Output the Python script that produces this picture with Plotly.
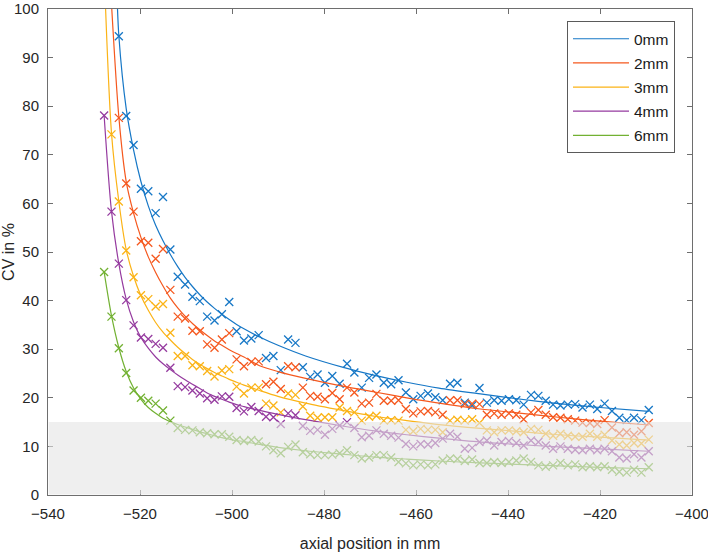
import plotly.graph_objects as go

# ---------------- data ----------------
x_pos = [-527.8, -526.2, -524.6, -523.0, -521.4, -519.8, -518.2, -516.6, -515.0, -513.4,
         -511.8, -510.2, -508.6, -507.0, -505.4, -503.8, -502.2, -500.6, -499.0, -497.4,
         -495.8, -494.2, -492.6, -491.0, -489.4, -487.8, -486.2, -484.6, -483.0, -481.4,
         -479.8, -478.2, -476.6, -475.0, -473.4, -471.8, -470.2, -468.6, -467.0, -465.4,
         -463.8, -462.2, -460.6, -459.0, -457.4, -455.8, -454.2, -452.6, -451.0, -449.4,
         -447.8, -446.2, -444.6, -443.0, -441.4, -439.8, -438.2, -436.6, -435.0, -433.4,
         -431.8, -430.2, -428.6, -427.0, -425.4, -423.8, -422.2, -420.6, -419.0, -417.4,
         -415.8, -414.2, -412.6, -411.0, -409.4]

cv_0mm = [None, None, 94.4, 78.0, 72.0, 63.0, 62.5, 58.0, 61.3, 50.5,
          44.9, 43.3, 40.8, 39.9, 36.7, 35.9, 37.2, 39.7, 33.7, 31.8,
          32.2, 32.9, 28.2, 28.6, 25.7, 32.0, 31.3, 26.3, 24.3, 24.8,
          23.1, 24.5, 22.9, 27.0, 25.2, 22.1, 24.1, 24.8, 23.1, 22.8,
          23.6, 21.1, 19.7, 20.4, 20.9, 20.1, 19.5, 22.9, 23.1, 19.0,
          18.4, 22.0, 19.0, 19.5, 19.4, 19.7, 19.5, 18.6, 20.6, 20.4,
          19.4, 18.6, 18.4, 18.6, 18.7, 18.0, 18.6, 17.7, 18.8, 17.3,
          15.9, 15.4, 15.9, 15.4, 17.5]

cv_2mm = [None, None, 77.6, 64.1, 58.3, 52.2, 51.9, 48.6, 50.6, 42.2,
          36.7, 36.3, 33.8, 33.7, 31.0, 30.3, 32.0, 33.3, 27.9, 26.5,
          27.4, 27.5, 22.8, 23.3, 21.8, 26.5, 26.3, 22.1, 20.4, 20.2,
          19.7, 21.0, 19.7, 22.1, 21.1, 18.8, 19.0, 20.8, 19.4, 19.4,
          19.5, 17.7, 16.8, 17.2, 17.3, 17.0, 16.5, 19.5, 19.5, 18.7,
          18.8, 18.7, 16.5, 16.8, 16.5, 16.8, 16.5, 15.6, 17.0, 17.5,
          16.5, 16.0, 15.9, 15.6, 15.3, 14.9, 14.8, 14.6, 15.4, 13.9,
          12.7, 12.9, 12.4, 13.1, 14.8]

cv_3mm = [None, 74.2, 60.4, 50.3, 44.8, 41.1, 40.3, 38.8, 39.3, 33.4,
          28.6, 28.6, 26.7, 26.5, 25.5, 24.4, 25.6, 25.9, 22.3, 20.9,
          22.1, 22.1, 18.8, 18.4, 17.0, 20.9, 20.6, 18.2, 16.3, 15.9,
          16.0, 16.0, 18.0, 17.3, 17.0, 15.3, 16.1, 16.3, 15.3, 15.4,
          15.3, 13.4, 13.1, 13.6, 13.4, 13.4, 12.9, 15.3, 15.5, 15.3,
          15.6, 14.8, 13.3, 12.9, 13.3, 13.3, 13.1, 12.9, 13.6, 13.4,
          12.6, 12.2, 12.6, 12.2, 12.0, 12.0, 12.6, 12.0, 12.4, 11.2,
          10.4, 10.2, 10.7, 10.6, 11.4]

cv_4mm = [78.1, 58.3, 47.6, 40.1, 34.9, 32.4, 32.1, 31.1, 30.3, 26.2,
          22.4, 22.2, 21.5, 20.9, 19.9, 19.6, 20.3, 20.2, 17.9, 17.2,
          18.1, 17.3, 16.1, 16.0, 14.6, 16.8, 16.4, 14.2, 13.2, 13.4,
          12.4, 13.6, 14.3, 15.0, 13.8, 11.9, 12.2, 13.3, 12.6, 12.2,
          11.8, 10.5, 10.0, 10.5, 10.4, 10.7, 11.6, 12.6, 12.0, 9.5,
          9.7, 10.9, 11.2, 10.2, 10.9, 11.1, 10.7, 10.2, 11.2, 10.9,
          10.2, 9.5, 10.0, 9.5, 9.3, 9.2, 9.5, 9.2, 9.5, 9.0,
          7.7, 7.5, 8.4, 7.7, 9.0]

cv_6mm = [45.9, 36.7, 30.2, 25.1, 21.5, 20.0, 19.4, 18.8, 17.4, 15.3,
          13.8, 13.4, 13.3, 12.9, 12.7, 12.5, 12.5, 12.0, 11.3, 11.1,
          11.3, 11.0, 10.0, 9.2, 8.6, 9.9, 10.4, 8.8, 8.4, 8.2,
          8.2, 8.3, 8.6, 9.2, 8.2, 7.5, 7.7, 8.2, 8.2, 7.7,
          6.8, 6.5, 6.1, 6.3, 6.1, 6.3, 7.1, 7.5, 7.4, 7.0,
          7.3, 6.6, 6.6, 6.8, 6.6, 6.8, 7.1, 7.5, 6.8, 6.1,
          5.8, 6.1, 6.6, 6.1, 6.3, 5.7, 5.9, 5.7, 5.9, 5.2,
          4.8, 4.6, 5.2, 4.6, 5.7]

# fitted curves
fit_x_0mm = [-525.0, -524.6, -523.0, -521.4, -519.8, -518.2, -516.6, -515.0, -513.4, -511.8,
             -510.2, -508.6, -507.0, -505.4, -503.8, -502.2, -500.6, -499.0, -497.4, -494.0,
             -490.0, -484.0, -476.0, -469.0, -462.0, -455.0, -446.0, -438.0, -429.0, -420.0, -409.4]
fit_y_0mm = [103.0, 94.5, 79.5, 71.0, 64.5, 59.5, 55.5, 52.3, 49.5, 47.0,
             44.8, 42.9, 41.2, 39.7, 38.4, 37.2, 36.1, 35.1, 34.2, 32.5,
             30.8, 28.6, 26.3, 24.6, 23.2, 22.0, 20.8, 19.8, 18.8, 18.0, 17.2]

fit_x_2mm = [-526.5, -524.6, -523.0, -521.4, -519.8, -518.2, -516.6, -515.0, -513.4, -511.8,
             -510.2, -508.6, -507.0, -505.4, -503.8, -502.2, -500.6, -499.0, -497.4, -494.0,
             -490.0, -484.0, -476.0, -469.0, -462.0, -455.0, -446.0, -438.0, -429.0, -420.0, -409.4]
fit_y_2mm = [106.0, 77.8, 64.5, 58.0, 53.0, 49.0, 45.8, 43.0, 40.5, 38.5,
             36.8, 35.3, 34.0, 32.8, 31.7, 30.8, 29.9, 29.1, 28.4, 26.6,
             25.4, 24.0, 22.4, 21.2, 20.0, 18.9, 17.7, 16.9, 16.0, 15.2, 14.4]

fit_x_3mm = [-527.8, -526.2, -524.6, -523.0, -521.4, -519.8, -518.2, -516.6, -515.0, -513.4,
             -511.8, -510.2, -508.6, -507.0, -505.4, -503.8, -502.2, -500.6, -499.0, -497.4,
             -494.0, -490.0, -484.0, -476.0, -469.0, -462.0, -455.0, -446.0, -438.0, -429.0,
             -420.0, -409.4]
fit_y_3mm = [108.0, 74.5, 60.4, 50.5, 45.0, 41.0, 38.0, 35.5, 33.5, 31.9,
             30.4, 29.1, 27.9, 26.9, 26.0, 25.2, 24.5, 23.8, 23.2, 22.6,
             21.5, 20.3, 18.9, 17.4, 16.2, 15.3, 14.5, 13.7, 13.1, 12.4,
             11.9, 11.3]

fit_x_4mm = [-527.8, -526.2, -524.6, -523.0, -521.4, -519.8, -518.2, -516.6, -515.0, -513.4,
             -511.8, -510.2, -508.6, -507.0, -505.4, -503.8, -502.2, -500.6, -499.0, -497.4,
             -494.0, -490.0, -484.0, -476.0, -469.0, -462.0, -455.0, -446.0, -438.0, -429.0,
             -420.0, -409.4]
fit_y_4mm = [78.1, 58.4, 47.6, 40.3, 35.6, 32.4, 30.2, 28.4, 27.0, 25.8,
             24.7, 23.7, 22.8, 21.9, 21.0, 20.3, 19.7, 19.1, 18.6, 18.2,
             17.4, 16.6, 15.5, 14.2, 13.2, 12.4, 11.7, 10.9, 10.4, 9.9,
             9.5, 9.0]

fit_x_6mm = [-527.8, -526.2, -524.6, -523.0, -521.4, -519.8, -518.2, -516.6, -515.0, -513.4,
             -511.8, -510.2, -508.6, -507.0, -505.4, -503.8, -502.2, -500.6, -499.0, -497.4,
             -494.0, -490.0, -484.0, -476.0, -469.0, -462.0, -455.0, -446.0, -438.0, -429.0,
             -420.0, -409.4]
fit_y_6mm = [45.9, 36.9, 30.3, 25.4, 22.0, 19.7, 18.0, 16.8, 15.8, 15.1,
             14.5, 14.0, 13.5, 13.0, 12.6, 12.2, 11.8, 11.5, 11.2, 11.0,
             10.4, 9.8, 9.1, 8.4, 7.8, 7.4, 7.0, 6.6, 6.3, 6.0,
             5.7, 5.4]

series_names = ["0mm", "2mm", "3mm", "4mm", "6mm"]
series_cv = [cv_0mm, cv_2mm, cv_3mm, cv_4mm, cv_6mm]
series_fit_x = [fit_x_0mm, fit_x_2mm, fit_x_3mm, fit_x_4mm, fit_x_6mm]
series_fit_y = [fit_y_0mm, fit_y_2mm, fit_y_3mm, fit_y_4mm, fit_y_6mm]
colors = ["#1677C6", "#F5581E", "#FBB316", "#953A9F", "#72B132"]

x_ticks = [-540, -520, -500, -480, -460, -440, -420, -400]
y_ticks = [0, 10, 20, 30, 40, 50, 60, 70, 80, 90, 100]
threshold = 15

# ---------------- figure ----------------
fig = go.Figure()
for name, cv, fx, fy, col in zip(series_names, series_cv, series_fit_x, series_fit_y, colors):
    fig.add_trace(go.Scatter(
        x=x_pos, y=cv, mode="markers", showlegend=False, legendgroup=name,
        marker=dict(symbol="x-thin", size=8, color=col, line=dict(width=1.3, color=col)),
        hoverinfo="skip", cliponaxis=True))
    fig.add_trace(go.Scatter(
        x=fx, y=fy, mode="lines", name=name, legendgroup=name,
        line=dict(color=col, width=1.2, shape="spline", smoothing=0.8)))

axis_col = "#6e6e6e"
font_fam = "Liberation Sans, Arial, Helvetica, sans-serif"

fig.add_shape(type="rect", xref="x", yref="y", x0=-539.85, x1=-400.15, y0=0.12, y1=threshold,
              fillcolor="rgb(228,228,228)", opacity=0.6, line=dict(width=0), layer="above")

fig.update_layout(
    width=708, height=557,
    margin=dict(l=48, r=16, t=9, b=62, autoexpand=False),
    paper_bgcolor="white", plot_bgcolor="white",
    font=dict(family=font_fam, size=15, color="#262626"),
    showlegend=True,
    legend=dict(x=0.9736, y=0.975, xanchor="right", yanchor="top",
                bgcolor="white", bordercolor="#5a5a5a", borderwidth=1,
                font=dict(size=15.5, color="#1a1a1a"), tracegroupgap=1,
                itemwidth=56),
    xaxis=dict(range=[-540, -400], tickvals=x_ticks, ticks="inside", ticklen=5,
               tickcolor=axis_col, showline=True, linecolor=axis_col, linewidth=1,
               mirror="ticks", showgrid=False, zeroline=False, automargin=False,
               ticklabelstandoff=5, ticklabeloverflow="allow",
               title=dict(text="axial position in mm", font=dict(size=16), standoff=16)),
    yaxis=dict(range=[0, 100], tickvals=y_ticks, ticks="inside", ticklen=5,
               tickcolor=axis_col, showline=True, linecolor=axis_col, linewidth=1,
               mirror="ticks", showgrid=False, zeroline=False, automargin=False,
               ticklabelstandoff=5, ticklabeloverflow="allow",
               title=dict(text="CV in %", font=dict(size=16), standoff=2)),
)

fig.write_html("out.html", config={"displayModeBar": False},
               post_script="document.body.style.margin='0';document.body.style.overflow='hidden';")
